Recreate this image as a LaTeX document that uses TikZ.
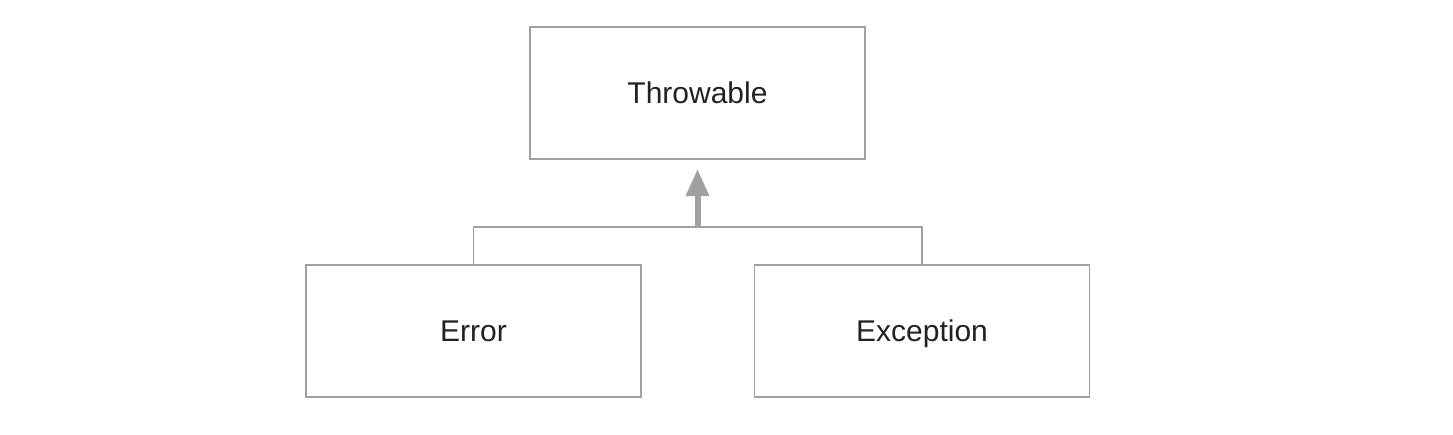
\documentclass[tikz,border=0pt]{standalone}
\usepackage{fontspec}
\setmainfont{Liberation Sans}
\usetikzlibrary{arrows.meta}
\definecolor{linegray}{HTML}{A0A0A0}
\definecolor{txt}{HTML}{222222}
\begin{document}
\begin{tikzpicture}[x=1pt,y=-1pt,
  cls/.style={draw=linegray,line width=1.3pt,minimum width=335pt,minimum height=132pt,inner sep=0pt,
    text height=21pt,text depth=0pt,
    font=\fontsize{30}{34}\selectfont,text=txt},
  conn/.style={draw=linegray,line width=1.3pt},
  inh/.style={draw=linegray,line width=6pt,-{Triangle[length=27pt,width=22pt]}}]
\useasboundingbox (0,0) rectangle (1453,434);
\fill[white] (0,0) rectangle (1453,434);
\node[cls] (thr) at (697.5,93) {Throwable};
\node[cls] (err) at (473.5,331) {Error};
\node[cls] (exc) at (922,331) {Exception};
\coordinate (j) at (697.5,227);
\draw[conn] (err.north) |- (j) -| (exc.north);
\draw[inh] (j) -- ++(0,-58);
\end{tikzpicture}
\end{document}
